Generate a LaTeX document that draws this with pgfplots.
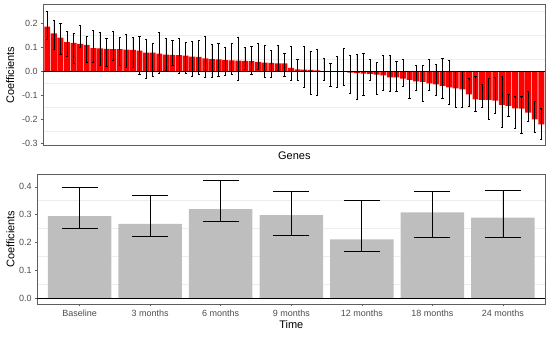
\documentclass[border=0pt]{standalone}
\usepackage{pgfplots}
\pgfplotsset{compat=1.18}
\usepackage{pgfplotstable}
\usepackage{fontspec}
\setmainfont{Liberation Sans}

\definecolor{barred}{HTML}{FF0000}
\definecolor{bargray}{HTML}{BEBEBE}
\definecolor{gridgray}{HTML}{EDEDED}
\definecolor{framegray}{HTML}{5E5E5E}
\definecolor{ticktext}{HTML}{4D4D4D}

% gene coefficients, sorted, with lower / upper limits
\pgfplotstableread{
i y lo hi
1 0.186 0.133 0.250
2 0.158 0.092 0.211
3 0.140 0.072 0.199
4 0.122 0.061 0.165
5 0.118 0.033 0.160
6 0.114 0.100 0.192
7 0.110 0.039 0.146
8 0.097 0.036 0.172
9 0.096 0.026 0.161
10 0.093 0.022 0.138
11 0.092 0.047 0.165
12 0.092 0.026 0.142
13 0.090 0.017 0.156
14 0.089 0.017 0.140
15 0.086 -0.011 0.144
16 0.078 -0.028 0.132
17 0.078 -0.021 0.118
18 0.074 -0.008 0.161
19 0.069 0.003 0.136
20 0.068 0.025 0.128
21 0.067 -0.010 0.136
22 0.065 -0.007 0.119
23 0.061 -0.019 0.124
24 0.060 -0.013 0.128
25 0.054 -0.024 0.146
26 0.051 -0.025 0.114
27 0.050 -0.019 0.115
28 0.047 -0.015 0.100
29 0.046 -0.013 0.115
30 0.044 -0.036 0.143
31 0.043 0.008 0.101
32 0.042 -0.011 0.103
33 0.039 0.010 0.117
34 0.036 -0.026 0.108
35 0.035 -0.024 0.088
36 0.033 0.006 0.108
37 0.033 -0.019 0.076
38 0.014 -0.036 0.103
39 0.008 -0.036 0.050
40 0.007 -0.068 0.103
41 0.006 -0.094 0.082
42 0.004 -0.100 0.093
43 0.001 -0.036 0.054
44 0.000 -0.064 0.035
45 0.000 -0.067 0.063
46 -0.001 -0.058 0.096
47 -0.005 -0.092 0.065
48 -0.008 -0.117 0.072
49 -0.010 -0.099 0.076
50 -0.011 -0.038 0.051
51 -0.014 -0.096 0.038
52 -0.017 -0.078 0.065
53 -0.025 -0.082 0.067
54 -0.025 -0.085 0.043
55 -0.031 -0.064 0.049
56 -0.036 -0.113 -0.001
57 -0.042 -0.079 0.026
58 -0.044 -0.125 0.026
59 -0.050 -0.081 0.050
60 -0.054 -0.101 0.031
61 -0.061 -0.114 0.053
62 -0.067 -0.136 0.044
63 -0.071 -0.150 0.001
64 -0.075 -0.150 0.001
65 -0.096 -0.147 -0.031
66 -0.117 -0.167 -0.021
67 -0.119 -0.150 -0.053
68 -0.119 -0.200 -0.031
69 -0.122 -0.175 -0.026
70 -0.140 -0.233 -0.021
71 -0.144 -0.189 -0.094
72 -0.154 -0.238 -0.106
73 -0.156 -0.258 -0.103
74 -0.172 -0.210 -0.083
75 -0.200 -0.256 -0.126
76 -0.221 -0.283 -0.154
}\genes

% time coefficients
\pgfplotstableread{
i y lo hi
1 0.295 0.249 0.398
2 0.267 0.222 0.371
3 0.320 0.275 0.424
4 0.298 0.224 0.383
5 0.211 0.169 0.351
6 0.308 0.219 0.383
7 0.289 0.218 0.386
}\timecoef

\pgfplotsset{
  ggpanel/.style={
    scale only axis,
    axis line style={framegray, line width=0.7pt},
    tick style={framegray, line width=0.6pt},
    tick align=outside,
    tick pos=left,
    major tick length=2.2pt,
    minor tick length=0pt,
    yminorgrids=true,
    minor grid style={gridgray, line width=0.5pt},
    ticklabel style={font=\fontsize{9}{10}\selectfont, text=ticktext},
    yticklabel style={/pgf/number format/.cd, fixed, fixed zerofill, precision=1, assume math mode=true},
    label style={font=\fontsize{11}{12}\selectfont},
    ylabel={Coefficients},
  },
}

\begin{document}
\begin{tikzpicture}
\useasboundingbox (0,0) rectangle (551pt,-338pt);

\begin{axis}[ggpanel,
    at={(43.3pt,-145.7pt)}, anchor=south west,
    width=502pt, height=141pt,
    xmin=0.4, xmax=76.6,
    ymin=-0.31, ymax=0.2775,
    xtick=\empty,
    ytick={-0.3,-0.2,-0.1,0,0.1,0.2},
    minor ytick={-0.25,-0.15,-0.05,0.05,0.15,0.25},
    xlabel={Genes},
    x label style={at={(axis description cs:0.5,0)}, anchor=center, yshift=-10.5pt},
    y label style={at={(axis description cs:-0.0657,0.5)}, anchor=center},
]
\addplot[ybar, bar width=0.9, fill=barred, draw=none,
    error bars/.cd, y dir=both, y explicit,
    error bar style={black, line width=0.6pt},
    error mark options={rotate=90, black, line width=0.6pt, mark size=1.1pt}]
    table[x=i, y=y, y error plus expr=\thisrow{hi}-\thisrow{y}, y error minus expr=\thisrow{y}-\thisrow{lo}] {\genes};
\addplot[black, line width=0.6pt, forget plot] coordinates {(0.4,0) (76.6,0)};
\end{axis}

\begin{axis}[ggpanel,
    at={(37.3pt,-304pt)}, anchor=south west,
    width=508pt, height=129.7pt,
    xmin=0.4, xmax=7.6,
    ymin=-0.0216, ymax=0.445,
    xtick={1,...,7},
    xticklabels={Baseline,3 months,6 months,9 months,12 months,18 months,24 months},
    ytick={0,0.1,0.2,0.3,0.4},
    minor ytick={0.05,0.15,0.25,0.35},
    xlabel={Time},
    x label style={at={(axis description cs:0.5,0)}, anchor=center, yshift=-21pt},
    y label style={at={(axis description cs:-0.0531,0.5)}, anchor=center},
]
\addplot[ybar, bar width=0.9, fill=bargray, draw=none,
    error bars/.cd, y dir=both, y explicit,
    error bar style={black, line width=0.75pt},
    error mark options={rotate=90, black, line width=0.75pt, mark size=18pt}]
    table[x=i, y=y, y error plus expr=\thisrow{hi}-\thisrow{y}, y error minus expr=\thisrow{y}-\thisrow{lo}] {\timecoef};
\addplot[black, line width=0.6pt, forget plot] coordinates {(0.4,0) (7.6,0)};
\end{axis}
\end{tikzpicture}
\end{document}
